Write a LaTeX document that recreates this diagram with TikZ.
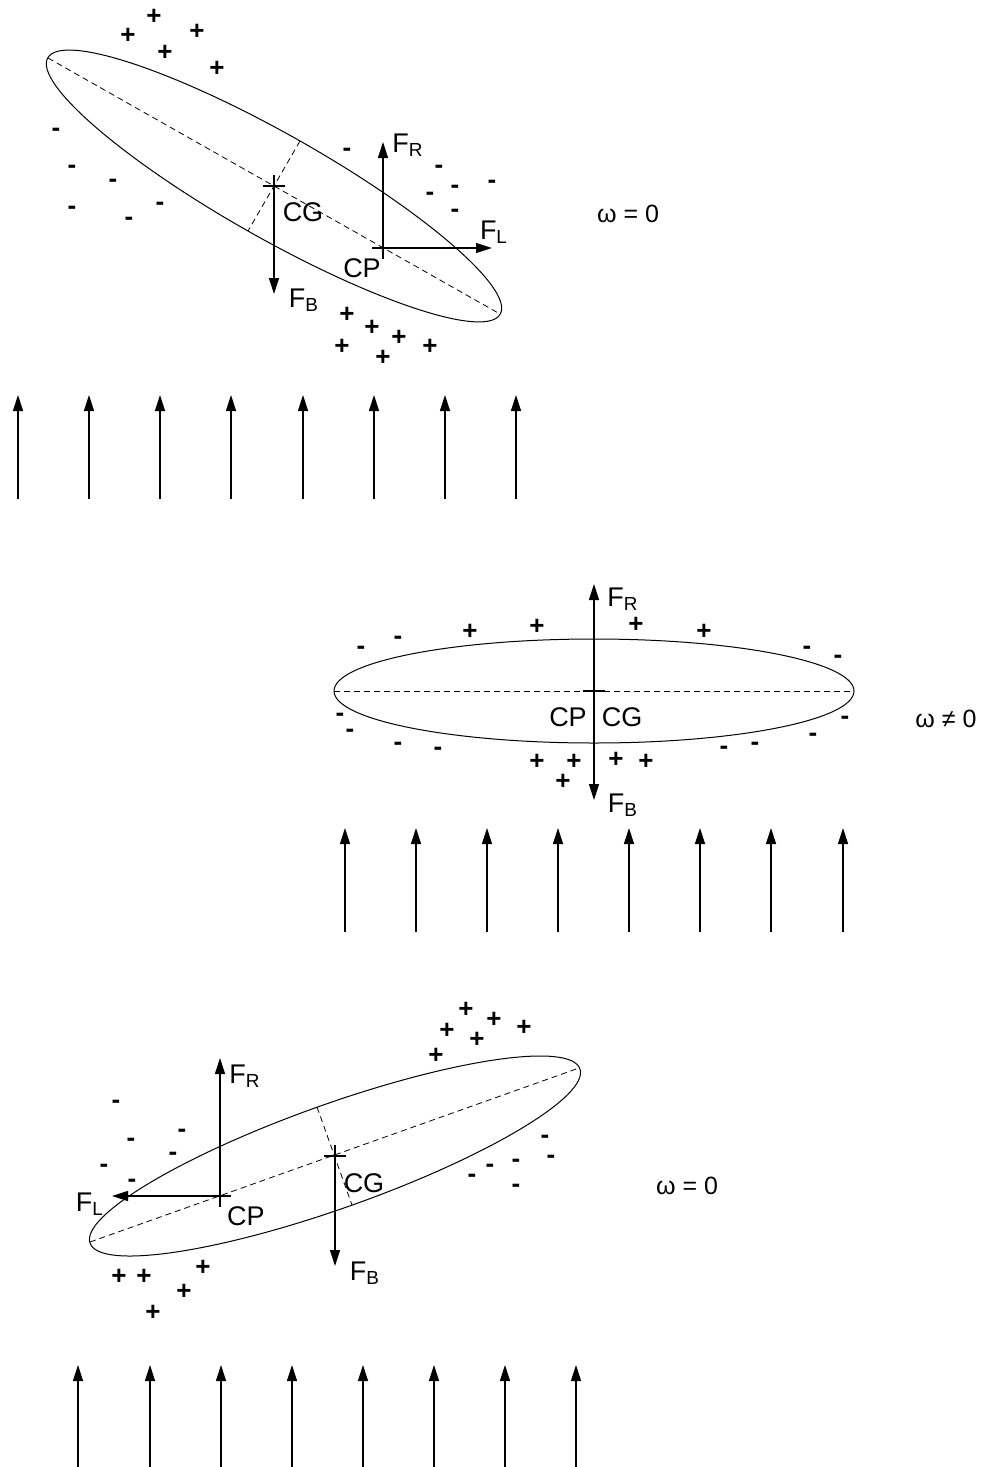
\documentclass[tikz,border=0pt]{standalone}
\usepackage{fontspec}
\setmainfont{Liberation Sans}
\usetikzlibrary{arrows.meta, calc}

\begin{document}
\begin{tikzpicture}[
  x=0.5pt, y=-0.5pt,
  body/.style={draw, line width=0.5pt},
  axisline/.style={dash pattern=on 3pt off 2pt, line width=0.4pt},
  force/.style={line width=0.6pt, -{Triangle[length=8pt, width=5pt]}},
  wind/.style={line width=0.6pt, -{Triangle[length=8pt, width=5pt]}},
  cross/.style={line width=0.9pt},
  lbl/.style={inner sep=0pt, font=\fontsize{13.5}{15}\selectfont},
  chg/.style={inner sep=0pt, font=\fontsize{13}{15}\selectfont\bfseries},
  omg/.style={inner sep=0pt, font=\fontsize{12.5}{14}\selectfont}
]
  \useasboundingbox (0,0) rectangle (984,1467);

  % tilted down, omega = 0
  \coordinate (cg1) at (274,186);
  \coordinate (cp1) at (383,248);
  \coordinate (ax1a) at (48,58);
  \coordinate (ax1b) at (500,314);
  \coordinate (mn1a) at (300,141);
  \coordinate (mn1b) at (248,231);
  \draw[body, rotate around={-29.53:(cg1)}] (cg1) ellipse [x radius=260, y radius=52];
  \draw[axisline] (ax1a) -- (ax1b);
  \draw[axisline] (mn1a) -- (mn1b);
  \coordinate (fr1) at (383,142);
  \coordinate (fl1) at (492,248);
  \coordinate (fb1) at (274,294);
  \draw[force] (cp1) -- (fr1);
  \draw[force] (cp1) -- (fl1);
  \draw[force] (cg1) -- (fb1);
  \draw[cross] (cg1) +(-11,0) -- +(11,0) +(0,-11) -- +(0,11);
  \draw[cross] (cp1) +(-11,0) -- +(11,0) +(0,-11) -- +(0,11);
  \node[lbl] (fr1l) at (408,145) {F\textsubscript{R}};
  \node[lbl] (fl1l) at (494,232) {F\textsubscript{L}};
  \node[lbl] (fb1l) at (304,300) {F\textsubscript{B}};
  \node[lbl] (cg1l) at (303,212) {CG};
  \node[lbl] (cp1l) at (362,268) {CP};
  \node[omg] (om1) at (628,214) {ω = 0};
  \foreach \x/\y [count=\i] in {154/17, 128/36, 197/32, 165/53, 217/69,
      347/315, 372/328, 399/338, 342/347, 430/347, 383/358}
    \node[chg] (pa\i) at (\x,\y) {+};
  \foreach \x/\y [count=\i] in {56/132, 72/169, 113/183, 72/210, 160/206, 129/221,
      347/152, 439/169, 430/196, 455/189, 492/184, 455/213}
    \node[chg] (ma\i) at (\x,\y) {-};
  \foreach \x [count=\i] in {18,89,160,231,303,374,445,516} {
    \coordinate (wa\i) at (\x,499);
    \coordinate (ta\i) at (\x,395);
    \draw[wind] (wa\i) -- (ta\i);
  }

  % level, omega /= 0
  \coordinate (cg2) at (594,691);
  \coordinate (ax2a) at (334,691);
  \coordinate (ax2b) at (854,691);
  \coordinate (mn2a) at (594,639);
  \draw[body] (cg2) ellipse [x radius=260, y radius=52];
  \draw[axisline] (ax2a) -- (ax2b);
  \draw[axisline] (mn2a) -- (cg2);
  \coordinate (fr2) at (594,584);
  \coordinate (fb2) at (594,800);
  \draw[force] (cg2) -- (fr2);
  \draw[force] (cg2) -- (fb2);
  \draw[cross] (cg2) +(-11,0) -- +(11,0) +(0,-11) -- +(0,11);
  \node[lbl] (fr2l) at (623,599) {F\textsubscript{R}};
  \node[lbl] (cp2l) at (568,717) {CP};
  \node[lbl] (cg2l) at (622,717) {CG};
  \node[lbl] (fb2l) at (623,805) {F\textsubscript{B}};
  \node[omg] (om2) at (946,719) {ω ≠ 0};
  \foreach \x/\y [count=\i] in {470/632, 537/627, 636/625, 704/632,
      537/762, 574/762, 616/760, 646/762, 563/782}
    \node[chg] (pb\i) at (\x,\y) {+};
  \foreach \x/\y [count=\i] in {361/650, 398/640, 807/650, 838/659,
      340/717, 350/733, 398/746, 438/751, 845/720, 813/737, 724/750, 755/746}
    \node[chg] (mb\i) at (\x,\y) {-};
  \foreach \x [count=\i] in {345,416,487,558,629,700,771,843} {
    \coordinate (wb\i) at (\x,932);
    \coordinate (tb\i) at (\x,828);
    \draw[wind] (wb\i) -- (tb\i);
  }

  % tilted up, omega = 0
  \coordinate (cg3) at (335,1156);
  \coordinate (cp3) at (220,1196);
  \coordinate (ax3a) at (90,1242);
  \coordinate (ax3b) at (579,1068);
  \coordinate (mn3a) at (317,1107);
  \coordinate (mn3b) at (352,1205);
  \draw[body, rotate around={19.59:(cg3)}] (cg3) ellipse [x radius=260, y radius=52];
  \draw[axisline] (ax3a) -- (ax3b);
  \draw[axisline] (mn3a) -- (mn3b);
  \coordinate (fr3) at (220,1058);
  \coordinate (fl3) at (112,1196);
  \coordinate (fb3) at (335,1266);
  \draw[force] (cp3) -- (fr3);
  \draw[force] (cp3) -- (fl3);
  \draw[force] (cg3) -- (fb3);
  \draw[cross] (cg3) +(-11,0) -- +(11,0) +(0,-11) -- +(0,11);
  \draw[cross] (cp3) +(-11,0) -- +(11,0) +(0,-11) -- +(0,11);
  \node[lbl] (fr3l) at (245,1076) {F\textsubscript{R}};
  \node[lbl] (fl3l) at (90,1204) {F\textsubscript{L}};
  \node[lbl] (cg3l) at (364,1183) {CG};
  \node[lbl] (cp3l) at (246,1216) {CP};
  \node[lbl] (fb3l) at (365,1273) {F\textsubscript{B}};
  \node[omg] (om3) at (687,1186) {ω = 0};
  \foreach \x/\y [count=\i] in {466/1010, 447/1031, 494/1020, 524/1028, 477/1040, 436/1056,
      119/1277, 144/1277, 203/1268, 184/1292, 153/1313}
    \node[chg] (pc\i) at (\x,\y) {+};
  \foreach \x/\y [count=\i] in {116/1104, 131/1142, 182/1133, 173/1156, 104/1168, 132/1183,
      545/1139, 551/1159, 490/1168, 516/1163, 472/1178, 516/1188}
    \node[chg] (mc\i) at (\x,\y) {-};
  \foreach \x [count=\i] in {78,150,221,292,363,434,505,576} {
    \coordinate (wc\i) at (\x,1467);
    \coordinate (tc\i) at (\x,1365);
    \draw[wind] (wc\i) -- (tc\i);
  }
\end{tikzpicture}
\end{document}
